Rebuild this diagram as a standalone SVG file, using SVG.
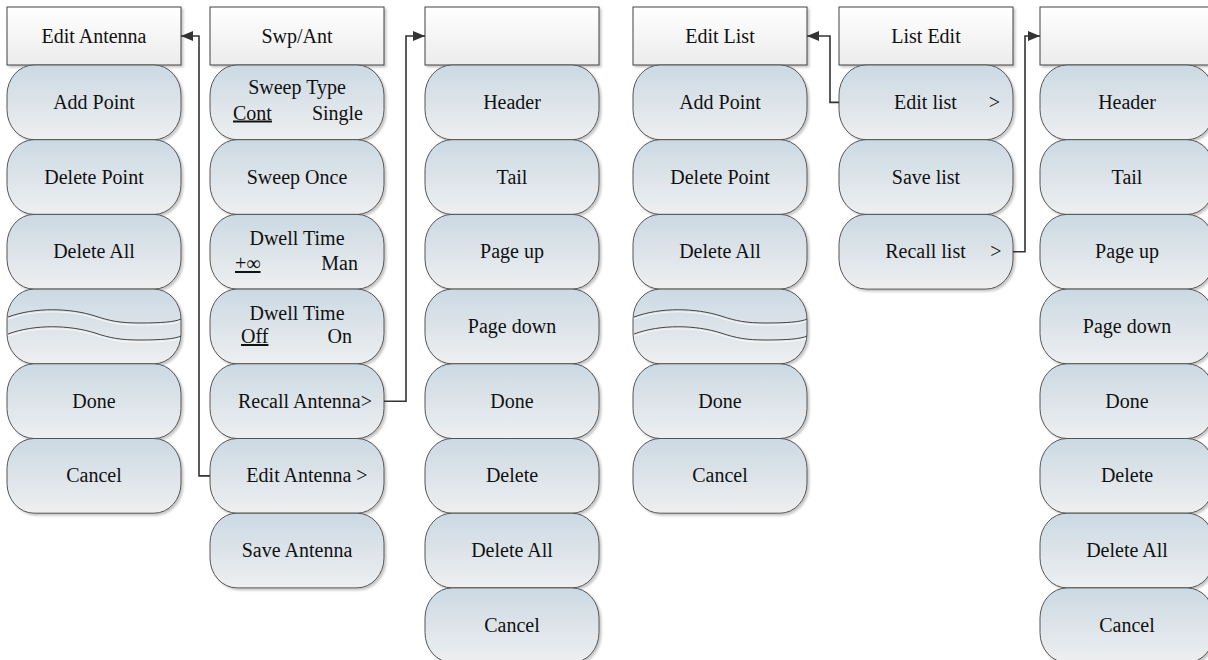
<svg xmlns="http://www.w3.org/2000/svg" width="1208" height="660" viewBox="0 0 1208 660">
<defs>
<linearGradient id="gb" x1="0" y1="0" x2="0" y2="1">
<stop offset="0" stop-color="#cbd9e3"/>
<stop offset="1" stop-color="#eeeff0"/>
</linearGradient>
<linearGradient id="gh" x1="0" y1="0" x2="0" y2="1">
<stop offset="0" stop-color="#ffffff"/>
<stop offset="1" stop-color="#ececec"/>
</linearGradient>
<filter id="sh" x="-10%" y="-10%" width="125%" height="125%">
<feDropShadow dx="2" dy="2" stdDeviation="1.2" flood-color="#000" flood-opacity="0.22"/>
</filter>
<marker id="ar" viewBox="0 0 12 10" refX="12" refY="5" markerWidth="12" markerHeight="10" markerUnits="userSpaceOnUse" orient="auto">
<path d="M0,0 L12,5 L0,10 Z" fill="#333"/>
</marker>
</defs>
<style>
.hd{fill:url(#gh);stroke:#404040;stroke-width:1;filter:url(#sh)}
.bt{fill:url(#gb);stroke:#555;stroke-width:1;filter:url(#sh)}
.wv{fill:none;stroke:#444;stroke-width:1}
.wh{fill:none;stroke:#f6f6f6;stroke-width:1.2}
text{font-size:20px;fill:#111}
.c{text-anchor:middle}
.e{text-anchor:end}
.u{text-decoration:underline}
.cn{fill:none;stroke:#333;stroke-width:1.6}
</style>
<rect width="1208" height="660" fill="#fff"/>
<g font-family="'Liberation Serif', 'Times New Roman', Times, 'DejaVu Serif', serif">
<g id="col1">
<g id="n-edit-antenna-hdr"><rect class="hd" x="7" y="7" width="174" height="58"/><text class="c" x="94" y="42.5">Edit Antenna</text></g>
<g id="n-c1-add"><rect class="bt" x="7" y="65" width="174" height="74.7" rx="27" ry="30"/><text class="c" x="94" y="108.8">Add Point</text></g>
<g id="n-c1-delpt"><rect class="bt" x="7" y="139.7" width="174" height="74.7" rx="27" ry="30"/><text class="c" x="94" y="183.5">Delete Point</text></g>
<g id="n-c1-delall"><rect class="bt" x="7" y="214.4" width="174" height="74.7" rx="27" ry="30"/><text class="c" x="94" y="258.2">Delete All</text></g>
<g id="n-c1-break"><rect class="bt" x="7" y="289.1" width="174" height="74.7" rx="27" ry="30"/>
<path class="wh" d="M8,319 C35,309 70,310 95,318 C110,323 120,325 140,325 C160,325 175,324 180,321"/>
<path class="wh" d="M8,336 C35,326 70,327 95,335 C110,340 120,342 140,342 C160,342 175,341 180,338"/>
<path class="wv" d="M8,317 C35,307 70,308 95,316 C110,321 120,323 140,323 C160,323 175,322 181,319"/>
<path class="wv" d="M8,334 C35,324 70,325 95,333 C110,338 120,340 140,340 C160,340 175,339 181,336"/>
</g>
<g id="n-c1-done"><rect class="bt" x="7" y="363.8" width="174" height="74.7" rx="27" ry="30"/><text class="c" x="94" y="407.6">Done</text></g>
<g id="n-c1-cancel"><rect class="bt" x="7" y="438.5" width="174" height="74.7" rx="27" ry="30"/><text class="c" x="94" y="482.3">Cancel</text></g>
</g>

<g id="col2">
<g id="n-swpant-hdr"><rect class="hd" x="210" y="7" width="174" height="58"/><text class="c" x="297" y="42.5">Swp/Ant</text></g>
<g id="n-sweeptype"><rect class="bt" x="210" y="65" width="174" height="74.7" rx="27" ry="30"/><text class="c" x="297" y="93.5">Sweep Type</text><text class="u" x="233" y="119.5">Cont</text><text class="e" x="363" y="119.5">Single</text></g>
<g id="n-sweeponce"><rect class="bt" x="210" y="139.7" width="174" height="74.7" rx="27" ry="30"/><text class="c" x="297" y="183.5">Sweep Once</text></g>
<g id="n-dwell1"><rect class="bt" x="210" y="214.4" width="174" height="74.7" rx="27" ry="30"/><text class="c" x="297" y="245">Dwell Time</text><text class="u" x="235" y="270">+∞</text><text class="e" x="358" y="270">Man</text></g>
<g id="n-dwell2"><rect class="bt" x="210" y="289.1" width="174" height="74.7" rx="27" ry="30"/><text class="c" x="297" y="320">Dwell Time</text><text class="u" x="241" y="343">Off</text><text class="e" x="352" y="343">On</text></g>
<g id="n-recallant"><rect class="bt" x="210" y="363.8" width="174" height="74.7" rx="27" ry="30"/><text class="c" x="305" y="407.6">Recall Antenna&gt;</text></g>
<g id="n-editant"><rect class="bt" x="210" y="438.5" width="174" height="74.7" rx="27" ry="30"/><text class="c" x="307" y="482.3">Edit Antenna &gt;</text></g>
<g id="n-saveant"><rect class="bt" x="210" y="513.2" width="174" height="74.7" rx="27" ry="30"/><text class="c" x="297" y="557">Save Antenna</text></g>
</g>

<g id="col3">
<g id="n-c3-hdr"><rect class="hd" x="425" y="7" width="174" height="58"/></g>
<g id="n-c3-header"><rect class="bt" x="425" y="65" width="174" height="74.7" rx="27" ry="30"/><text class="c" x="512" y="108.8">Header</text></g>
<g id="n-c3-tail"><rect class="bt" x="425" y="139.7" width="174" height="74.7" rx="27" ry="30"/><text class="c" x="512" y="183.5">Tail</text></g>
<g id="n-c3-pgup"><rect class="bt" x="425" y="214.4" width="174" height="74.7" rx="27" ry="30"/><text class="c" x="512" y="258.2">Page up</text></g>
<g id="n-c3-pgdn"><rect class="bt" x="425" y="289.1" width="174" height="74.7" rx="27" ry="30"/><text class="c" x="512" y="332.9">Page down</text></g>
<g id="n-c3-done"><rect class="bt" x="425" y="363.8" width="174" height="74.7" rx="27" ry="30"/><text class="c" x="512" y="407.6">Done</text></g>
<g id="n-c3-del"><rect class="bt" x="425" y="438.5" width="174" height="74.7" rx="27" ry="30"/><text class="c" x="512" y="482.3">Delete</text></g>
<g id="n-c3-delall"><rect class="bt" x="425" y="513.2" width="174" height="74.7" rx="27" ry="30"/><text class="c" x="512" y="557">Delete All</text></g>
<g id="n-c3-cancel"><rect class="bt" x="425" y="587.9" width="174" height="74.7" rx="27" ry="30"/><text class="c" x="512" y="631.7">Cancel</text></g>
</g>

<g id="col4">
<g id="n-editlist-hdr"><rect class="hd" x="633" y="7" width="174" height="58"/><text class="c" x="720" y="42.5">Edit List</text></g>
<g id="n-c4-add"><rect class="bt" x="633" y="65" width="174" height="74.7" rx="27" ry="30"/><text class="c" x="720" y="108.8">Add Point</text></g>
<g id="n-c4-delpt"><rect class="bt" x="633" y="139.7" width="174" height="74.7" rx="27" ry="30"/><text class="c" x="720" y="183.5">Delete Point</text></g>
<g id="n-c4-delall"><rect class="bt" x="633" y="214.4" width="174" height="74.7" rx="27" ry="30"/><text class="c" x="720" y="258.2">Delete All</text></g>
<g id="n-c4-break"><rect class="bt" x="633" y="289.1" width="174" height="74.7" rx="27" ry="30"/>
<g transform="translate(626,0)">
<path class="wh" d="M8,319 C35,309 70,310 95,318 C110,323 120,325 140,325 C160,325 175,324 180,321"/>
<path class="wh" d="M8,336 C35,326 70,327 95,335 C110,340 120,342 140,342 C160,342 175,341 180,338"/>
<path class="wv" d="M8,317 C35,307 70,308 95,316 C110,321 120,323 140,323 C160,323 175,322 181,319"/>
<path class="wv" d="M8,334 C35,324 70,325 95,333 C110,338 120,340 140,340 C160,340 175,339 181,336"/>
</g>
</g>
<g id="n-c4-done"><rect class="bt" x="633" y="363.8" width="174" height="74.7" rx="27" ry="30"/><text class="c" x="720" y="407.6">Done</text></g>
<g id="n-c4-cancel"><rect class="bt" x="633" y="438.5" width="174" height="74.7" rx="27" ry="30"/><text class="c" x="720" y="482.3">Cancel</text></g>
</g>

<g id="col5">
<g id="n-listedit-hdr"><rect class="hd" x="839" y="7" width="174" height="58"/><text class="c" x="926" y="42.5">List Edit</text></g>
<g id="n-editlist"><rect class="bt" x="839" y="65" width="174" height="74.7" rx="27" ry="30"/><text class="c" x="925.5" y="108.8">Edit list</text><text class="c" x="994.5" y="108.8">&gt;</text></g>
<g id="n-savelist"><rect class="bt" x="839" y="139.7" width="174" height="74.7" rx="27" ry="30"/><text class="c" x="926" y="183.5">Save list</text></g>
<g id="n-recalllist"><rect class="bt" x="839" y="214.4" width="174" height="74.7" rx="27" ry="30"/><text class="c" x="925.5" y="258.2">Recall list</text><text class="c" x="996" y="258.2">&gt;</text></g>
</g>

<g id="col6">
<g id="n-c6-hdr"><rect class="hd" x="1040" y="7" width="174" height="58"/></g>
<g id="n-c6-header"><rect class="bt" x="1040" y="65" width="174" height="74.7" rx="27" ry="30"/><text class="c" x="1127" y="108.8">Header</text></g>
<g id="n-c6-tail"><rect class="bt" x="1040" y="139.7" width="174" height="74.7" rx="27" ry="30"/><text class="c" x="1127" y="183.5">Tail</text></g>
<g id="n-c6-pgup"><rect class="bt" x="1040" y="214.4" width="174" height="74.7" rx="27" ry="30"/><text class="c" x="1127" y="258.2">Page up</text></g>
<g id="n-c6-pgdn"><rect class="bt" x="1040" y="289.1" width="174" height="74.7" rx="27" ry="30"/><text class="c" x="1127" y="332.9">Page down</text></g>
<g id="n-c6-done"><rect class="bt" x="1040" y="363.8" width="174" height="74.7" rx="27" ry="30"/><text class="c" x="1127" y="407.6">Done</text></g>
<g id="n-c6-del"><rect class="bt" x="1040" y="438.5" width="174" height="74.7" rx="27" ry="30"/><text class="c" x="1127" y="482.3">Delete</text></g>
<g id="n-c6-delall"><rect class="bt" x="1040" y="513.2" width="174" height="74.7" rx="27" ry="30"/><text class="c" x="1127" y="557">Delete All</text></g>
<g id="n-c6-cancel"><rect class="bt" x="1040" y="587.9" width="174" height="74.7" rx="27" ry="30"/><text class="c" x="1127" y="631.7">Cancel</text></g>
</g>
</g>

<g id="connectors">
<path class="cn" d="M210,475.9 H199 V36 H181" marker-end="url(#ar)"/>
<path class="cn" d="M384,401.2 H406 V36 H425" marker-end="url(#ar)"/>
<path class="cn" d="M839,102.4 H830 V36 H807" marker-end="url(#ar)"/>
<path class="cn" d="M1013,251.8 H1025 V36 H1040" marker-end="url(#ar)"/>
</g>
</svg>
